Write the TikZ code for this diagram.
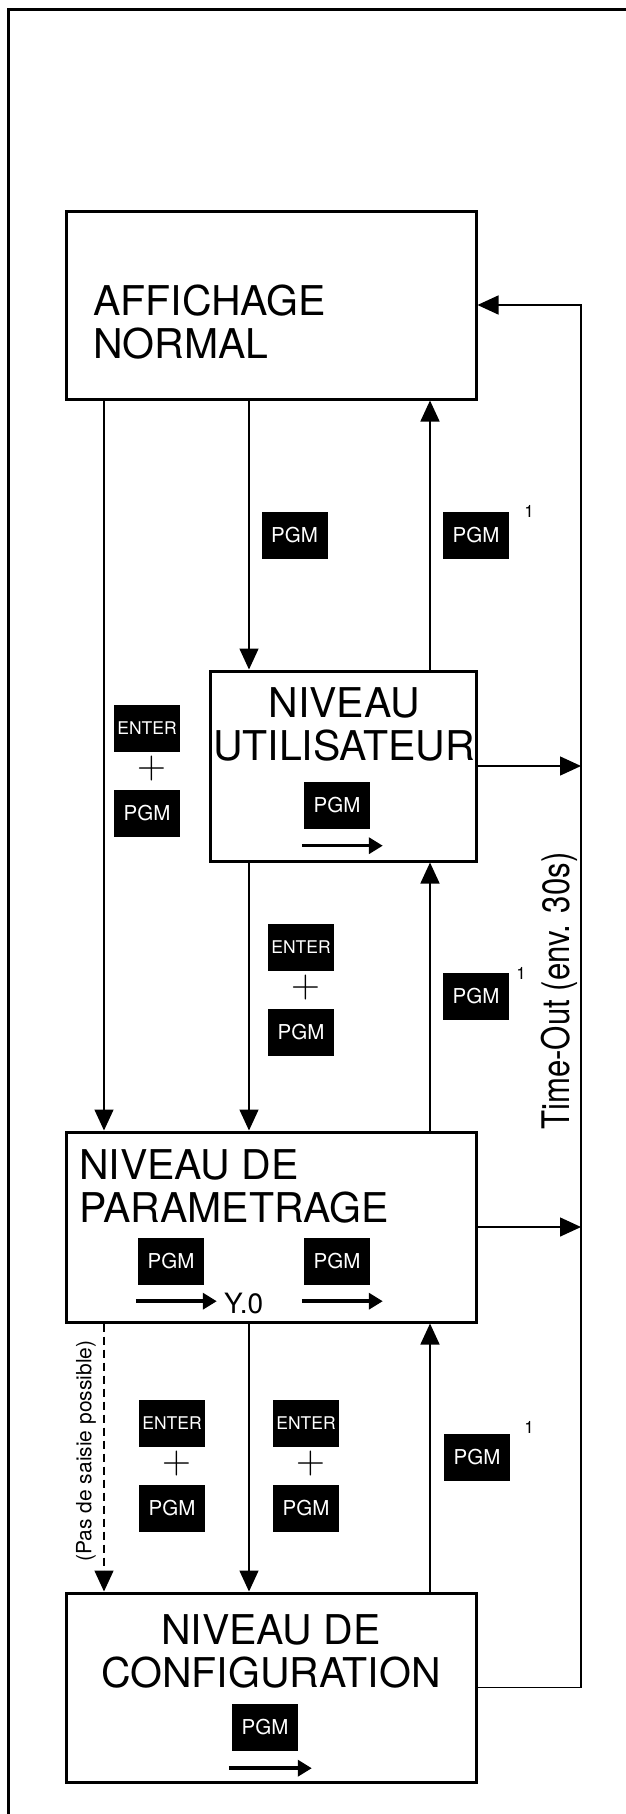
\documentclass[tikz,border=0pt]{standalone}
\usepackage{fontspec}
\usepackage{graphicx}
\newfontfamily\helv{TeX Gyre Heros}
\usetikzlibrary{arrows.meta}

\tikzset{
  levelbox/.style={draw, line width=3pt, inner sep=0pt},
  leveltext/.style={inner sep=0pt, font=\helv\fontsize{41}{43}\selectfont},
  key/.style={fill=black, text=white, inner sep=0pt, minimum width=66pt, minimum height=47pt, font=\helv\fontsize{20.5}{20.5}\selectfont},
  enterkey/.style={key, font=\helv\fontsize{17.5}{17.5}\selectfont},
  plus/.style={inner sep=0pt, font=\fontsize{40}{40}\selectfont},
  note/.style={inner sep=0pt, font=\helv\fontsize{17}{17}\selectfont},
  link/.style={line width=1.5pt, -{Triangle[length=21pt, width=19pt]}},
  scroll/.style={line width=3.5pt, -{Triangle[length=14pt, width=16pt]}},
}

\begin{document}
\begin{tikzpicture}[x=1pt, y=-1pt]
        \useasboundingbox (0,0) rectangle (625,1814);
        % Cadre
        \draw[line width=3pt] (8.5,1820) -- (8.5,9.5) -- (630,9.5);

        % Colonnes des liaisons
        \coordinate (colA) at (104,0);
        \coordinate (colB) at (249,0);
        \coordinate (colC) at (430,0);
        \coordinate (colR) at (581,0);

        % Niveaux
        \node[levelbox, minimum width=410pt, minimum height=188pt] (affich) at (271,305) {};
        \node[levelbox, minimum width=266pt, minimum height=190pt] (util) at (343,766) {};
        \node[levelbox, minimum width=410pt, minimum height=190pt] (param) at (271,1227) {};
        \node[levelbox, minimum width=410pt, minimum height=189pt] (config) at (271,1687.5) {};

        \node[leveltext, anchor=base west, align=left] (affichtxt) at (93,358) {AFFICHAGE\\NORMAL};
        \node[leveltext, anchor=base, align=center] (utiltxt) at (344,760) {NIVEAU\\UTILISATEUR};
        \node[leveltext, anchor=base west, align=left] (paramtxt) at (79,1222) {NIVEAU DE\\PARAMETRAGE};
        \node[leveltext, anchor=base, align=center] (configtxt) at (271,1687) {NIVEAU DE\\CONFIGURATION};

        % Defilement dans les niveaux
        \node[key] (utilkey) at (337,805) {PGM};
        \draw[scroll] (utilkey.south west) ++(-2,17) -- ++(81,0);
        \node[key] (paramkeyA) at (171,1261.5) {PGM};
        \draw[scroll] (paramkeyA.south west) ++(-2,16) -- ++(81,0);
        \node[inner sep=0pt, anchor=base west, font=\helv\fontsize{28}{28}\selectfont] (yzero) at (224,1313) {Y.0};
        \node[key] (paramkeyB) at (337,1261.5) {PGM};
        \draw[scroll] (paramkeyB.south west) ++(-2,16) -- ++(81,0);
        \node[key] (configkey) at (265,1727.5) {PGM};
        \draw[scroll] (configkey.south west) ++(-3,17) -- ++(83,0);

        % Touches sur les liaisons
        \node[key] (pgmA) at (294.5,535) {PGM};
        \node[key] (pgmB) at (476,535) {PGM};
        \node[note] (noteB) at (529,511) {1};

        \node[enterkey] (enterC) at (147,728.5) {ENTER};
        \node[plus] (plusC) at (152,769) {+};
        \node[key] (pgmC) at (147,813.5) {PGM};

        \node[enterkey] (enterD) at (301,947.5) {ENTER};
        \node[plus] (plusD) at (306,988) {+};
        \node[key] (pgmD) at (301,1032.5) {PGM};
        \node[key] (pgmE) at (476,996.5) {PGM};
        \node[note] (noteE) at (521,973) {1};

        \node[enterkey] (enterF) at (172,1423.5) {ENTER};
        \node[plus] (plusF) at (177,1464) {+};
        \node[key] (pgmF) at (172,1508.5) {PGM};
        \node[enterkey] (enterG) at (306,1423.5) {ENTER};
        \node[plus] (plusG) at (311,1464) {+};
        \node[key] (pgmG) at (306,1508.5) {PGM};
        \node[key] (pgmH) at (477,1457.5) {PGM};
        \node[note] (noteH) at (529,1427) {1};

        % Liaisons
        \draw[link] (colA |- affich.south) -- (colA |- param.north);
        \draw[link] (colB |- affich.south) -- (colB |- util.north);
        \draw[link] (colC |- util.north) -- (colC |- affich.south);
        \draw[link] (colB |- util.south) -- (colB |- param.north);
        \draw[link] (colC |- param.north) -- (colC |- util.south);
        \draw[link, dash pattern=on 8pt off 5pt] (colA |- param.south) -- (colA |- config.north);
        \draw[link] (colB |- param.south) -- (colB |- config.north);
        \draw[link] (colC |- config.north) -- (colC |- param.south);

        % Time-Out
        \draw[link] (util.east) -- (colR |- util.east);
        \draw[link] (param.east) -- (colR |- param.east);
        \draw[link] (config.east) -| (colR |- affich.east) -- (affich.east);

        \node[rotate=90, inner sep=0pt, font=\helv\fontsize{38}{38}\selectfont] (timeout) at (559,991) {\scalebox{0.82}[1]{Time-Out (env. 30s)}};
        \node[rotate=90, inner sep=0pt, font=\helv\fontsize{21}{21}\selectfont] (nosaisie) at (86,1451) {(Pas de saisie possible)};
\end{tikzpicture}
\end{document}
